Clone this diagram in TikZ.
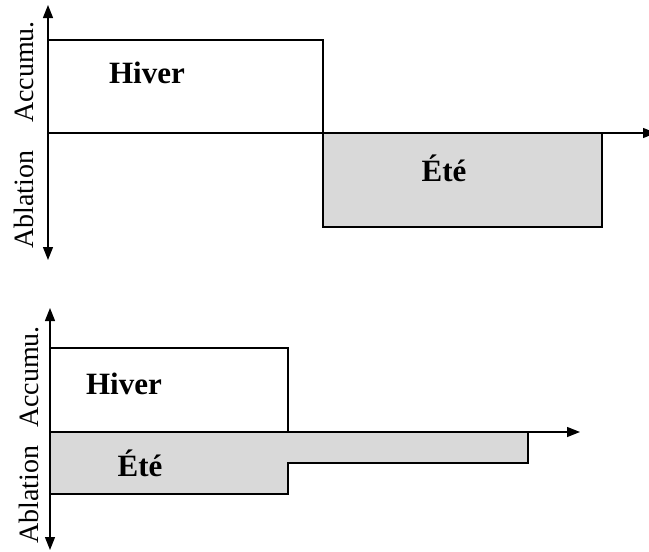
\documentclass[tikz,border=0pt]{standalone}
\usepackage{fontspec}
\setmainfont{Liberation Serif}
\usetikzlibrary{arrows.meta}
\definecolor{ablgray}{gray}{0.85}
\tikzset{
        tip/.style={-{Triangle[length=13pt,width=10pt]}},
        axis/.style={line width=1.4pt, {Triangle[length=13pt,width=10pt]}-{Triangle[length=13pt,width=10pt]}},
        xaxis/.style={line width=1.4pt, tip},
        bar/.style={line width=1.4pt},
        season/.style={font=\fontsize{31}{32}\selectfont\bfseries},
        side/.style={font=\fontsize{28}{29}\selectfont, rotate=90}
    }

\begin{document}
\begin{tikzpicture}[x=1pt,y=-1pt]
\useasboundingbox (0,0) rectangle (649,552);

% upper panel
\coordinate (TOP1) at (48,5);
\coordinate (BOT1) at (48,260);
\coordinate (ORG1) at (48,133);
\coordinate (END1) at (656,133);

\fill[ablgray] (323,133) rectangle (602,227);
\draw[bar] (48,40) -- (323,40) -- (323,133);
\draw[bar] (323,133) -- (323,227) -- (602,227) -- (602,133);

\draw[axis] (BOT1) -- (TOP1);
\draw[xaxis] (ORG1) -- (END1);

\draw (147,73) node(HIV1)[season]{Hiver};
\draw (444,168) node(ETE1)[season]{Été};
\draw (24,72) node(ACC1)[side]{Accumu.};
\draw (24,200) node(ABL1)[side]{Ablation};

% lower panel
\coordinate (TOP2) at (50,308);
\coordinate (BOT2) at (50,550);
\coordinate (ORG2) at (50,432);
\coordinate (END2) at (580,432);

\fill[ablgray] (50,432) -- (528,432) -- (528,463) -- (288,463) -- (288,494) -- (50,494) -- cycle;
\draw[bar] (50,348) -- (288,348) -- (288,432);
\draw[bar] (528,432) -- (528,463) -- (288,463) -- (288,494) -- (50,494);

\draw[axis] (BOT2) -- (TOP2);
\draw[xaxis] (ORG2) -- (END2);

\draw (124,384) node(HIV2)[season]{Hiver};
\draw (140,463) node(ETE2)[season]{Été};
\draw (29,377) node(ACC2)[side]{Accumu.};
\draw (29,495) node(ABL2)[side]{Ablation};

\end{tikzpicture}
\end{document}
